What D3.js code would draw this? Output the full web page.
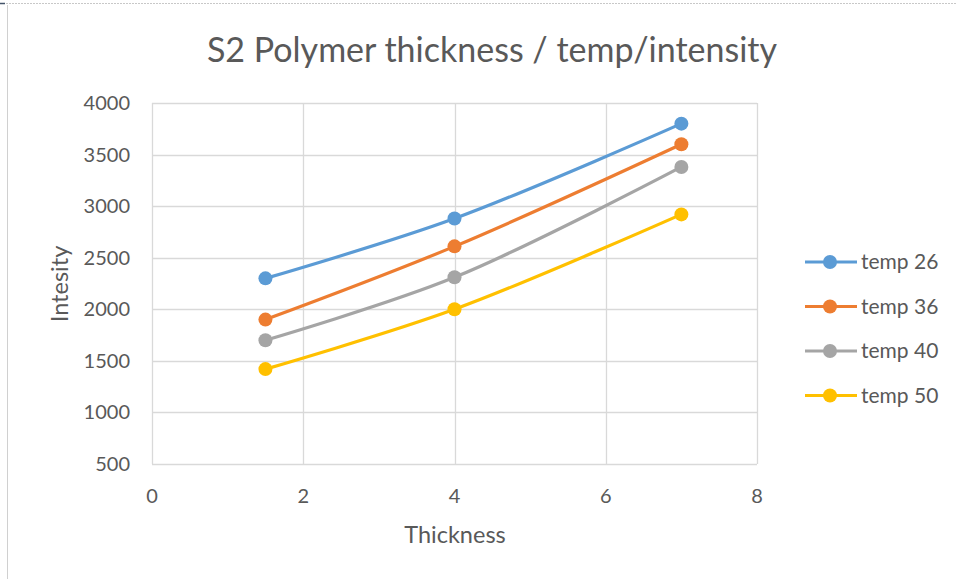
<!DOCTYPE html>
<html>
<head>
<meta charset="utf-8">
<script src="https://cdn.jsdelivr.net/npm/d3@7"></script>
<style>
  body { margin: 0; background: #fff; }
  svg { display: block; font-family: Lato, "Open Sans", sans-serif; }
</style>
</head>
<body>
<svg id="chart" width="957" height="579"></svg>
<script>
// data
var thickness = [1.5, 4, 7];
var seriesNames = ["temp 26", "temp 36", "temp 40", "temp 50"];
var temp26 = [2300, 2880, 3800];
var temp36 = [1900, 2610, 3600];
var temp40 = [1700, 2310, 3380];
var temp50 = [1420, 2000, 2920];
var colors = ["#5b9bd5", "#ed7d31", "#a5a5a5", "#ffc000"];
var xTicks = [0, 2, 4, 6, 8];
var yTicks = [500, 1000, 1500, 2000, 2500, 3000, 3500, 4000];

var allSeries = [temp26, temp36, temp40, temp50];

var svg = d3.select("#chart");

// frame bits
svg.append("line").attr("x1", 0).attr("x2", 957).attr("y1", 3.5).attr("y2", 3.5)
  .attr("stroke", "#c8c8c8").attr("stroke-dasharray", "2,1");
svg.append("line").attr("x1", 0).attr("x2", 5).attr("y1", 3.5).attr("y2", 3.5)
  .attr("stroke", "#44546a").attr("stroke-width", 1.5);
svg.append("line").attr("x1", 7.5).attr("x2", 7.5).attr("y1", 5).attr("y2", 579)
  .attr("stroke", "#d0d0d0");

var x = d3.scaleLinear().domain([0, 8]).range([152, 757]);
var y = d3.scaleLinear().domain([500, 4000]).range([464, 103]);

var g = svg.append("g");

// grid
g.selectAll(".hgrid").data(yTicks).enter().append("line")
  .attr("x1", x(0)).attr("x2", x(8))
  .attr("y1", function (d) { return Math.round(y(d)) + 0.5 })
  .attr("y2", function (d) { return Math.round(y(d)) + 0.5 })
  .attr("stroke", "#d9d9d9").attr("stroke-width", 1.3);
g.selectAll(".vgrid").data(xTicks).enter().append("line")
  .attr("y1", y(500)).attr("y2", y(4000))
  .attr("x1", function (d) { return Math.round(x(d)) + 0.5 })
  .attr("x2", function (d) { return Math.round(x(d)) + 0.5 })
  .attr("stroke", "#d9d9d9").attr("stroke-width", 1.3);

// tick labels
g.selectAll(".ylab").data(yTicks).enter().append("text")
  .attr("x", 130).attr("y", function (d) { return y(d) + 7 })
  .attr("text-anchor", "end").attr("font-size", 20).attr("fill", "#595959")
  .text(function (d) { return d });
g.selectAll(".xlab").data(xTicks).enter().append("text")
  .attr("x", function (d) { return x(d) }).attr("y", 503)
  .attr("text-anchor", "middle").attr("font-size", 20).attr("fill", "#595959")
  .text(function (d) { return d });

// titles
svg.append("text").attr("x", 492).attr("y", 62).attr("text-anchor", "middle")
  .attr("font-size", 34).attr("fill", "#595959")
  .text("S2 Polymer thickness / temp/intensity");
svg.append("text").attr("x", 455).attr("y", 543).attr("text-anchor", "middle")
  .attr("font-size", 23.5).attr("fill", "#595959").text("Thickness");
svg.append("text").attr("transform", "translate(68,284) rotate(-90)")
  .attr("text-anchor", "middle").attr("font-size", 23.5).attr("fill", "#595959")
  .text("Intesity");

// lines
var line = d3.line()
  .x(function (d, i) { return x(thickness[i]) })
  .y(function (d) { return y(d) })
  .curve(d3.curveCatmullRom.alpha(0.5));

allSeries.forEach(function (vals, k) {
  g.append("path").datum(vals)
    .attr("d", line).attr("fill", "none")
    .attr("stroke", colors[k]).attr("stroke-width", 3.2)
    .attr("stroke-linecap", "round");
  g.selectAll(".pt" + k).data(vals).enter().append("circle")
    .attr("cx", function (d, i) { return x(thickness[i]) })
    .attr("cy", function (d) { return y(d) })
    .attr("r", 7).attr("fill", colors[k]);
});

// legend
var leg = svg.append("g");
seriesNames.forEach(function (name, k) {
  var ly = 262 + k * 44.5;
  leg.append("line").attr("x1", 805).attr("x2", 857).attr("y1", ly).attr("y2", ly)
    .attr("stroke", colors[k]).attr("stroke-width", 3.2);
  leg.append("circle").attr("cx", 830).attr("cy", ly).attr("r", 7).attr("fill", colors[k]);
  leg.append("text").attr("x", 861).attr("y", ly + 7).attr("font-size", 21)
    .attr("fill", "#595959").text(name);
});
</script>
</body>
</html>
